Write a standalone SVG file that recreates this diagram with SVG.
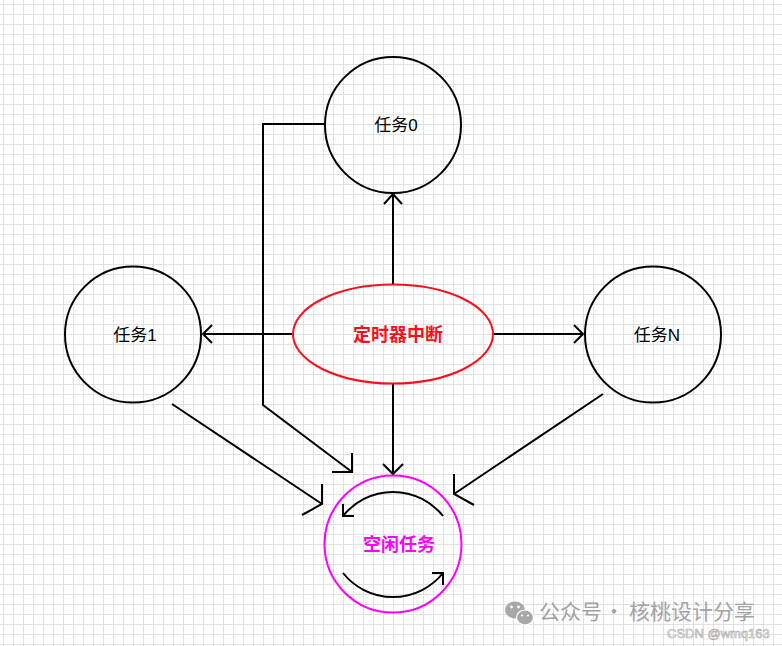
<svg xmlns="http://www.w3.org/2000/svg" width="782" height="646" viewBox="0 0 782 646">
  <defs>
    <pattern id="grid" width="10" height="10" patternUnits="userSpaceOnUse" x="3" y="4">
      <path d="M0.5 0V10M0 0.5H10" stroke="#e1e1e1" stroke-width="1" fill="none"/>
    </pattern>
  </defs>
  <style>
    .node { fill: none; stroke: #000; stroke-width: 2; }
    .lbl { font-family: "Liberation Sans", "Noto Sans CJK SC", sans-serif; font-size: 17px; text-anchor: middle; fill: #000; }
    .conn { fill: none; stroke: #000; stroke-width: 2; stroke-linejoin: miter; }
    .wm { font-family: "Noto Sans CJK SC", sans-serif; font-size: 21px; fill: #a3a3a3; }
  </style>
  <rect width="782" height="646" fill="#fff"/>
  <rect width="782" height="646" fill="url(#grid)"/>

  <g id="connectors">
    <!-- timer -> task0 -->
    <path class="conn" d="M393 284V194M384 204L393 194L402 204"/>
    <!-- timer -> task1 -->
    <path class="conn" d="M293 334H203M212 325L203 334L212 343"/>
    <!-- timer -> taskN -->
    <path class="conn" d="M493 334H583M574 325L583 334L574 343"/>
    <!-- timer -> idle -->
    <path class="conn" d="M393 384V474M383 464L393 474L403 464"/>
    <!-- task0 -> idle -->
    <path class="conn" d="M325 124H263V405L352 472M352 453V472H332"/>
    <!-- task1 -> idle -->
    <path class="conn" d="M172 404L322 504M322 484V504L302 515"/>
    <!-- taskN -> idle -->
    <path class="conn" d="M603 394L454 494M454 474V494L474 505"/>
  </g>

  <g id="task0">
    <circle class="node" cx="393" cy="125" r="68"/>
    <text class="lbl" x="396" y="131">任务0</text>
  </g>
  <g id="task1">
    <circle class="node" cx="133" cy="334.5" r="68"/>
    <text class="lbl" x="135" y="340.5">任务1</text>
  </g>
  <g id="taskN">
    <circle class="node" cx="653" cy="334.5" r="68"/>
    <text class="lbl" x="657" y="340.5">任务N</text>
  </g>
  <g id="timer">
    <ellipse cx="393" cy="334" rx="100" ry="49.5" fill="none" stroke="#ff0d1a" stroke-width="2"/>
    <text class="lbl" x="398" y="341" style="fill:#ff0d1a;font-weight:bold;font-size:18px">定时器中断</text>
  </g>
  <g id="idle">
    <circle cx="393" cy="544" r="68.5" fill="none" stroke="#ff00ff" stroke-width="2"/>
    <path class="conn" d="M443 516A64 64 0 0 0 343 516M343 504V516L354 516"/>
    <path class="conn" d="M343 573A64 64 0 0 0 443 573M443 585V573L432 573"/>
    <text class="lbl" x="399" y="551" style="fill:#ff00ff;font-weight:bold;font-size:18px">空闲任务</text>
  </g>

  <g id="watermark">
    <ellipse cx="515" cy="610" rx="10" ry="8.5" fill="#a8a8a8"/>
    <ellipse cx="525" cy="617.5" rx="8.5" ry="7.5" fill="#a8a8a8" stroke="#fff" stroke-width="1.2"/>
    <circle cx="511.5" cy="607" r="1.4" fill="#fff"/>
    <circle cx="518.5" cy="607" r="1.4" fill="#fff"/>
    <circle cx="522" cy="615.5" r="1.1" fill="#fff"/>
    <circle cx="528" cy="615.5" r="1.1" fill="#fff"/>
    <text class="wm" x="539" y="619">公众号</text>
    <text class="wm" x="614" y="619" text-anchor="middle">·</text>
    <text class="wm" x="629" y="619">核桃设计分享</text>
    <text x="667" y="638" font-family="Liberation Sans, sans-serif" font-size="13" fill="#fff" stroke="#a8a8a8" stroke-width="0.6">CSDN @wmq163</text>
  </g>
</svg>
